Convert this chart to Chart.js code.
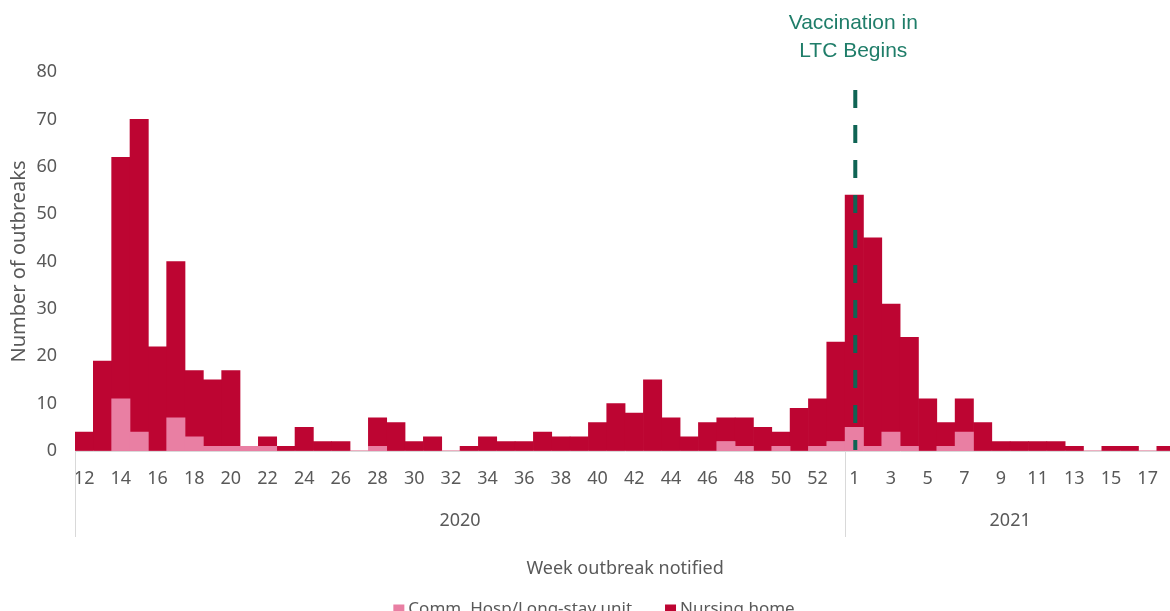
<!DOCTYPE html>
<html>
<head>
<meta charset="utf-8">
<script src="https://cdn.jsdelivr.net/npm/chart.js@4/dist/chart.umd.min.js"></script>
<style>
  html, body { margin: 0; padding: 0; background: #fff; overflow: hidden; }
</style>
</head>
<body>
<canvas id="chart" width="1183" height="625"></canvas>
<script>
// weeks of 2020 (12-53) followed by weeks of 2021 (1-18)
const weeks2020 = [12, 13, 14, 15, 16, 17, 18, 19, 20, 21, 22, 23, 24, 25, 26, 27, 28, 29, 30, 31, 32,
  33, 34, 35, 36, 37, 38, 39, 40, 41, 42, 43, 44, 45, 46, 47, 48, 49, 50, 51, 52, 53];
const weeks2021 = [1, 2, 3, 4, 5, 6, 7, 8, 9, 10, 11, 12, 13, 14, 15, 16, 17, 18];
const years = ["2020", "2021"];

const commHosp2020 = [0, 0, 11, 4, 0, 7, 3, 1, 1, 1, 1, 0, 0, 0, 0, 0, 1, 0, 0, 0, 0,
  0, 0, 0, 0, 0, 0, 0, 0, 0, 0, 0, 0, 0, 0, 2, 1, 0, 1, 0, 1, 2];
const commHosp2021 = [5, 1, 4, 1, 0, 1, 4, 0, 0, 0, 0, 0, 0, 0, 0, 0, 0, 0];
const nursing2020 = [4, 19, 51, 66, 22, 33, 14, 14, 16, 0, 2, 1, 5, 2, 2, 0, 6, 6, 2, 3, 0,
  1, 3, 2, 2, 4, 3, 3, 6, 10, 8, 15, 7, 3, 6, 5, 6, 5, 3, 9, 10, 21];
const nursing2021 = [49, 44, 27, 23, 11, 5, 7, 6, 2, 2, 2, 2, 1, 0, 1, 1, 0, 1];

const yTicks = [0, 10, 20, 30, 40, 50, 60, 70, 80];
const vaccinationWeek = "2021-1";
const vaccinationText = ["Vaccination in", "LTC Begins"];

const labels = weeks2020.map(w => "2020-" + w).concat(weeks2021.map(w => "2021-" + w));
const weekNames = weeks2020.concat(weeks2021);

const PINK = "#E97FA3";
const RED = "#BD0532";
const GREY = "#595959";
const LINE = "#D9D9D9";
const FONT = "'Noto Sans', sans-serif";

const extras = {
  id: "extras",
  afterDatasetsDraw(chart) {
    const { ctx, chartArea, scales: { x } } = chart;
    const bottom = chartArea.bottom;

    // year separators and year labels
    const split = (x.getPixelForTick(weeks2020.length - 1) + x.getPixelForTick(weeks2020.length)) / 2;
    ctx.save();
    ctx.strokeStyle = LINE;
    ctx.lineWidth = 1;
    ctx.beginPath();
    [chartArea.left + 0.5, Math.round(split) + 0.5].forEach(px => {
      ctx.moveTo(px, bottom);
      ctx.lineTo(px, bottom + 86);
    });
    ctx.stroke();
    ctx.fillStyle = GREY;
    ctx.font = "18px " + FONT;
    ctx.textAlign = "center";
    ctx.textBaseline = "middle";
    ctx.fillText(years[0], (chartArea.left + split) / 2, bottom + 70);
    ctx.fillText(years[1], (split + chartArea.right) / 2, bottom + 70);

    // vaccination marker
    const vx = x.getPixelForValue(labels.indexOf(vaccinationWeek)) + 1;
    ctx.strokeStyle = "#0F6454";
    ctx.lineWidth = 4;
    ctx.setLineDash([18, 17]);
    ctx.beginPath();
    ctx.moveTo(vx, 90);
    ctx.lineTo(vx, bottom - 1);
    ctx.stroke();
    ctx.setLineDash([]);
    ctx.fillStyle = "#1F7D69";
    ctx.font = "21px 'Liberation Sans', Arial, sans-serif";
    ctx.fillText(vaccinationText[0], vx - 2, 23);
    ctx.fillText(vaccinationText[1], vx - 2, 51);

    // legend
    ctx.font = "17px " + FONT;
    ctx.textAlign = "left";
    const items = chart.data.datasets.map(d => ({ text: d.label, color: d.backgroundColor, w: ctx.measureText(d.label).width }));
    const box = 11, gap = 4, between = 33;
    const total = items.reduce((s, it) => s + box + gap + it.w, 0) + between * (items.length - 1);
    let lx = 594 - total / 2;
    const ly = 609;
    items.forEach(it => {
      ctx.fillStyle = it.color;
      ctx.fillRect(lx, ly - box / 2 + 1, box, box);
      ctx.fillStyle = GREY;
      ctx.fillText(it.text, lx + box + gap, ly);
      lx += box + gap + it.w + between;
    });
    ctx.restore();
  }
};

new Chart(document.getElementById("chart"), {
  type: "bar",
  data: {
    labels: labels,
    datasets: [
      {
        label: "Comm. Hosp/Long-stay unit",
        data: commHosp2020.concat(commHosp2021),
        backgroundColor: PINK,
        borderWidth: 0,
        barPercentage: 1,
        categoryPercentage: 1,
      },
      {
        label: "Nursing home",
        data: nursing2020.concat(nursing2021),
        backgroundColor: RED,
        borderWidth: 0,
        barPercentage: 1,
        categoryPercentage: 1,
      },
    ],
  },
  options: {
    responsive: false,
    animation: false,
    layout: { padding: { top: 72, right: 0, bottom: 32, left: 0 } },
    plugins: {
      legend: { display: false },
      tooltip: { enabled: false },
    },
    scales: {
      x: {
        stacked: true,
        grid: { display: false, drawTicks: false },
        border: { display: true, color: LINE, width: 1 },
        ticks: {
          autoSkip: false,
          maxRotation: 0,
          padding: 17,
          color: GREY,
          font: { family: FONT, size: 18 },
          callback: (v, i) => (i % 2 === 0 ? String(weekNames[i]) : ""),
        },
        title: {
          display: true,
          text: "Week outbreak notified",
          color: GREY,
          font: { family: FONT, size: 18 },
          padding: { top: 0, bottom: 13 },
        },
        afterFit: scale => { scale.height = 142; },
      },
      y: {
        stacked: true,
        min: 0,
        max: 80,
        afterBuildTicks: scale => { scale.ticks = yTicks.map(v => ({ value: v })); },
        grid: { display: false, drawTicks: false },
        border: { display: false },
        ticks: {
          padding: 18,
          color: GREY,
          font: { family: FONT, size: 18 },
        },
        title: {
          display: true,
          text: "Number of outbreaks",
          color: GREY,
          font: { family: FONT, size: 20 },
          padding: { top: 7, bottom: 0 },
        },
        afterFit: scale => { scale.width = 75; },
      },
    },
  },
  plugins: [extras],
});
</script>
</body>
</html>
